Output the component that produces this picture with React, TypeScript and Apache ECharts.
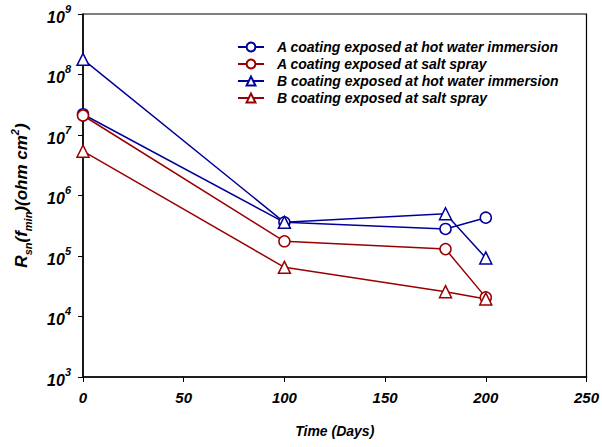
import React, { useEffect, useRef } from "react";
import * as echarts from "echarts";

const days = [0, 100, 180, 200];
const seriesNames = [
  "A coating exposed at hot water immersion",
  "A coating exposed at salt spray",
  "B coating exposed at hot water immersion",
  "B coating exposed at salt spray",
];
const aHotWater = [2.2e7, 3.6e5, 2.8e5, 4.3e5];
const aSaltSpray = [2.1e7, 1.75e5, 1.3e5, 2.07e4];
const bHotWater = [1.78e8, 3.6e5, 5.0e5, 9.3e4];
const bSaltSpray = [5.4e6, 6.5e4, 2.57e4, 1.95e4];
const xTicks = [0, 50, 100, 150, 200, 250];

const BLUE = "#000099";
const RED = "#990000";
const FONT = "Liberation Sans, Arial, sans-serif";

export default function App() {
  const ref = useRef<HTMLDivElement>(null);
  useEffect(() => {
    const chart = echarts.init(ref.current!, null, { renderer: "svg" });
    const mk = (name: string, vals: number[], color: string, symbol: string) => ({
      name,
      type: "line",
      data: days.map((d, i) => [d, vals[i]]),
      symbol,
      symbolSize: symbol === "circle" ? 11 : 12,
      showAllSymbol: true,
      lineStyle: { color, width: 1.5 },
      itemStyle: { color: "#ffffff", borderColor: color, borderWidth: 1.5 },
      emphasis: { disabled: true },
    });
    const nameBase = { fontFamily: FONT, fontWeight: "bold", fontStyle: "italic", color: "#000", lineHeight: 24 };
    chart.setOption({
      animation: false,
      backgroundColor: "#ffffff",
      textStyle: { fontFamily: FONT },
      grid: {
        left: 83,
        right: 14,
        top: 14,
        bottom: 70,
        show: true,
        borderColor: "#000",
        borderWidth: 1.2,
        backgroundColor: "transparent",
      },
      legend: {
        orient: "vertical",
        left: 232,
        top: 35,
        itemWidth: 26,
        itemHeight: 11,
        itemGap: 3,
        data: seriesNames,
        textStyle: {
          fontFamily: FONT,
          fontSize: 14,
          fontWeight: "bold",
          fontStyle: "italic",
          color: "#000",
          padding: [0, 0, 0, 8],
        },
      },
      xAxis: {
        type: "value",
        min: 0,
        max: 250,
        interval: 50,
        name: "Time (Days)",
        nameLocation: "middle",
        nameGap: 47,
        nameTextStyle: {
          fontFamily: FONT,
          fontSize: 14,
          fontWeight: "bold",
          fontStyle: "italic",
          color: "#000",
        },
        axisLine: { lineStyle: { color: "#000", width: 1.5 } },
        axisTick: { show: true, inside: false, length: 5, lineStyle: { color: "#000", width: 1 } },
        splitLine: { show: false },
        axisLabel: {
          margin: 13,
          fontFamily: FONT,
          fontSize: 15,
          fontWeight: "bold",
          fontStyle: "italic",
          color: "#000",
          customValues: xTicks,
        },
      },
      yAxis: {
        type: "log",
        logBase: 10,
        min: 1e3,
        max: 1e9,
        interval: 1,
        name: "{b|R}{sub|sn}{b|(}{b|f}{sub|min}{b|)(ohm cm}{sup|2}{b|)}",
        nameLocation: "middle",
        nameRotate: 90,
        nameGap: 50,
        nameTextStyle: {
          rich: {
            b: { ...nameBase, fontSize: 17, verticalAlign: "middle" },
            sub: { ...nameBase, fontSize: 11, verticalAlign: "bottom" },
            sup: { ...nameBase, fontSize: 11, verticalAlign: "top" },
          },
        },
        axisLine: { show: true, lineStyle: { color: "#000", width: 1.5 } },
        axisTick: { show: true, inside: false, length: 5, lineStyle: { color: "#000", width: 1 } },
        minorTick: { show: false },
        splitLine: { show: false },
        axisLabel: {
          margin: 12,
          formatter: (v: number) => `{b|10}{s|${Math.round(Math.log10(v))}}`,
          rich: {
            b: { fontFamily: FONT, fontSize: 16, fontWeight: "bold", fontStyle: "italic", color: "#000", lineHeight: 22, verticalAlign: "bottom" },
            s: { fontFamily: FONT, fontSize: 11, fontWeight: "bold", fontStyle: "italic", color: "#000", lineHeight: 22, verticalAlign: "top" },
          },
        },
      },
      series: [
        mk(seriesNames[0], aHotWater, BLUE, "circle"),
        mk(seriesNames[1], aSaltSpray, RED, "circle"),
        mk(seriesNames[2], bHotWater, BLUE, "triangle"),
        mk(seriesNames[3], bSaltSpray, RED, "triangle"),
      ],
    });
    return () => chart.dispose();
  }, []);
  return <div ref={ref} style={{ width: 602, height: 447, position: "absolute", left: 0, top: 0 }} />;
}
